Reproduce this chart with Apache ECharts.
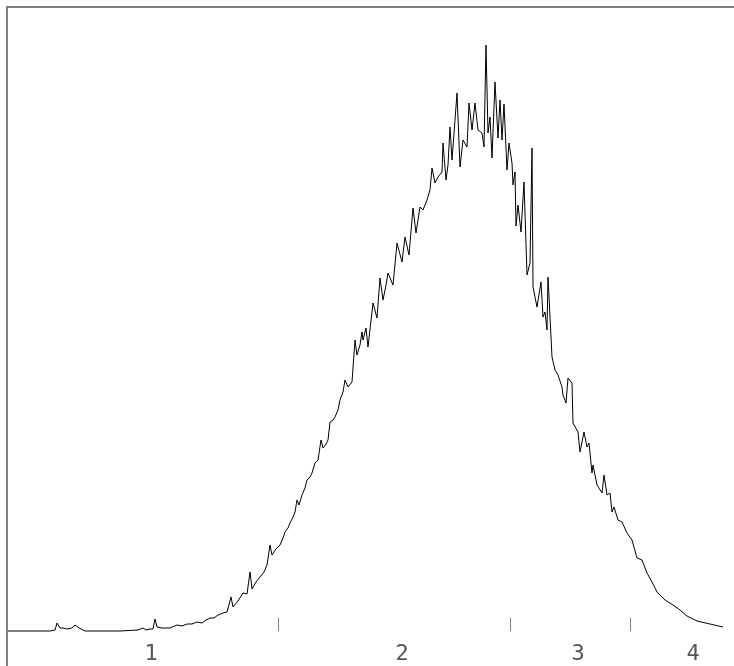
<!DOCTYPE html>
<html>
<head>
<meta charset="utf-8">
<script src="https://cdn.jsdelivr.net/npm/echarts@6/dist/echarts.min.js"></script>
<style>html,body{margin:0;padding:0;background:#fff}#c{width:734px;height:666px}</style>
</head>
<body>
<div id="c"></div>
<script>
// Curve samples (x position along the axis, signal height)
const xValues = [1,23,43,48,50,53,56,60,65,68,70,72,78,93,113,131,136,139,143,146,148,150,155,163,170,175,180,185,190,195,199,203,207,211,216,220,224,226,231,236,240,243,245,249,253,257,260,263,265,269,273,276,278,281,283,286,288,290,292,295,298,300,303,305,308,311,314,316,319,321,323,326,328,331,333,336,338,341,345,348,350,353,355,356,359,361,366,370,373,376,379,381,386,390,395,398,402,406,409,413,416,418,420,423,425,428,431,435,436,439,441,443,445,448,450,453,456,460,462,465,468,471,475,477,479,481,483,485,488,491,493,495,497,500,502,505,506,508,509,511,514,517,520,523,525,526,530,534,536,538,540,541,545,548,551,555,556,559,561,565,566,571,573,577,580,582,585,586,590,595,597,600,603,605,607,611,615,620,625,630,635,640,645,650,658,666,673,680,690,703,716,727];
const yValues = [0,0,0,1,8,3,3,2,3,6,7,3,0,0,0,1,3,1,2,2,12,4,3,3,6,5,7,7,9,8,11,13,13,16,18,19,34,24,30,38,37,59,42,49,54,59,66,86,76,82,86,93,99,103,108,114,119,131,126,136,143,151,154,158,168,171,191,183,187,191,209,211,214,221,231,239,251,244,249,291,276,286,299,291,303,284,328,313,353,331,346,358,346,388,369,394,376,423,398,424,421,419,431,441,463,448,454,459,488,451,466,504,471,511,538,464,491,484,528,501,528,501,498,484,586,498,514,473,549,493,531,491,527,461,488,468,446,459,405,426,399,449,356,368,483,344,324,349,314,319,301,354,274,261,256,244,236,228,253,248,208,199,179,199,184,188,158,166,146,138,156,136,138,119,124,111,109,98,91,73,71,58,49,39,31,26,21,15,10,7,4];
// Axis annotation
const tickPositions = [271, 503, 623];
const labelPositions = [144, 395, 571, 686];
const tickLabels = ['1', '2', '3', '4'];

const points = xValues.map((x, i) => [x, yValues[i]]);
const chart = echarts.init(document.getElementById('c'), null, {renderer: 'canvas'});
const boxColor = '#808080';
chart.setOption({
  animation: false,
  backgroundColor: '#fff',
  grid: {left: 7, top: 7, right: 0, bottom: 0, containLabel: false},
  xAxis: [
    {
      type: 'value', min: 0, max: 727, position: 'bottom',
      axisLine: {show: false},
      splitLine: {show: false},
      axisTick: {show: true, inside: true, length: 13, customValues: tickPositions,
        lineStyle: {color: boxColor, width: 1}},
      axisLabel: {show: true, inside: true, margin: 1, customValues: labelPositions,
        formatter: v => tickLabels[labelPositions.indexOf(v)] || '',
        fontFamily: 'DejaVu Sans Mono', fontSize: 22, color: '#555'}
    },
    {
      type: 'value', min: 0, max: 727, position: 'top',
      axisLine: {show: true, lineStyle: {color: boxColor, width: 2}},
      axisTick: {show: false}, axisLabel: {show: false}, splitLine: {show: false}
    }
  ],
  yAxis: {
    type: 'value', min: -35, max: 624,
    axisLine: {show: true, lineStyle: {color: boxColor, width: 2}},
    axisTick: {show: false}, axisLabel: {show: false}, splitLine: {show: false}
  },
  series: [{
    type: 'line', xAxisIndex: 0, data: points, showSymbol: false, symbol: 'none',
    lineStyle: {color: '#000', width: 1}, silent: true
  }]
});
</script>
</body>
</html>
